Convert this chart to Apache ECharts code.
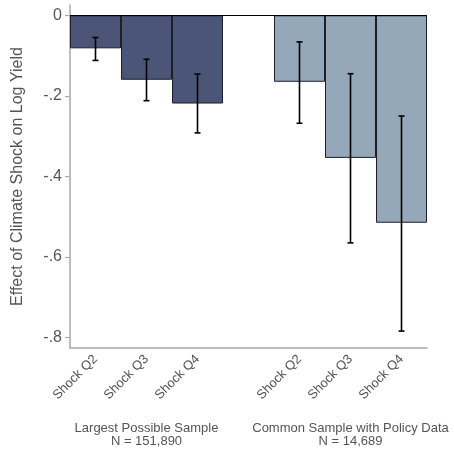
<!DOCTYPE html>
<html>
<head>
<meta charset="utf-8">
<script src="https://cdn.jsdelivr.net/npm/echarts@6/dist/echarts.min.js"></script>
<style>html,body{margin:0;padding:0;background:#fff;}#chart{width:454px;height:449px;}</style>
</head>
<body>
<div id="chart"></div>
<script>
// Categories (empty slot separates the two samples)
const categories = ['Shock Q2', 'Shock Q3', 'Shock Q4', '', 'Shock Q2', 'Shock Q3', 'Shock Q4'];
const groupLabels = ['', 'Largest Possible Sample\nN = 151,890', '', '', '', 'Common Sample with Policy Data\nN = 14,689', ''];
// Point estimates
const estimates = [-0.082, -0.160, -0.219, null, -0.165, -0.354, -0.515];
// Confidence intervals
const ciLow  = [-0.112, -0.212, -0.292, null, -0.268, -0.565, -0.784];
const ciHigh = [-0.055, -0.109, -0.146, null, -0.066, -0.145, -0.250];
// Sample group per category (0 = largest sample, 1 = common sample)
const sampleGroup = [0, 0, 0, null, 1, 1, 1];
const yTicks = [0, -0.2, -0.4, -0.6, -0.8];

const groupColors = ['#4b5577', '#95a8ba'];
const FONT = 'Liberation Sans, Arial, sans-serif';

const barData = estimates.map((v, i) => v === null ? '-' : {
  value: v,
  itemStyle: { color: groupColors[sampleGroup[i]] }
});
const errData = [];
estimates.forEach((v, i) => { if (v !== null) errData.push([i, ciLow[i], ciHigh[i]]); });

const chart = echarts.init(document.getElementById('chart'), null, { renderer: 'canvas' });
chart.setOption({
  animation: false,
  backgroundColor: '#ffffff',
  grid: { left: 70, right: 27, top: 5, bottom: 101, containLabel: false, outerBoundsMode: 'none' },
  xAxis: [{
    type: 'category',
    data: categories,
    boundaryGap: true,
    axisLine: { onZero: false, lineStyle: { color: '#a8a8a8', width: 1.5 } },
    axisTick: { alignWithLabel: true, length: 5, interval: (i, v) => v !== '', lineStyle: { color: '#a8a8a8', width: 1.2 } },
    axisLabel: { interval: 0, rotate: 45, margin: 9, color: '#555', fontFamily: FONT, fontSize: 13 },
    splitLine: { show: false }
  }, {
    type: 'category',
    data: groupLabels,
    position: 'bottom',
    boundaryGap: true,
    axisLine: { show: false },
    axisTick: { show: false },
    axisLabel: { interval: 0, margin: 74, color: '#555', fontFamily: FONT, fontSize: 13, lineHeight: 13, align: 'center' },
    splitLine: { show: false }
  }],
  yAxis: {
    type: 'value',
    min: -0.826,
    max: 0.0256,
    name: 'Effect of Climate Shock on Log Yield',
    nameLocation: 'middle',
    nameGap: 44,
    nameTextStyle: { color: '#555', fontFamily: FONT, fontSize: 16 },
    axisLine: { show: true, lineStyle: { color: '#a8a8a8', width: 1.5 } },
    axisTick: { show: true, length: 5, customValues: yTicks, lineStyle: { color: '#a8a8a8', width: 1.2 } },
    axisLabel: {
      customValues: yTicks, margin: 8, color: '#555', fontFamily: FONT, fontSize: 16,
      formatter: v => v === 0 ? '0' : ('-' + String(Math.abs(v).toFixed(1)).replace(/^0/, ''))
    },
    splitLine: { show: false }
  },
  series: [{
    type: 'bar',
    data: barData,
    barCategoryGap: '0%',
    itemStyle: { borderColor: '#1e1e28', borderWidth: 1 },
    markLine: {
      silent: true,
      symbol: 'none',
      label: { show: false },
      lineStyle: { color: '#000', width: 1.2, type: 'solid' },
      data: [{ yAxis: 0 }]
    },
    z: 2
  }, {
    type: 'custom',
    data: errData,
    z: 5,
    renderItem: (params, api) => {
      const x = api.value(0);
      const lo = api.coord([x, api.value(1)]);
      const hi = api.coord([x, api.value(2)]);
      const cap = 3;
      const style = { stroke: '#000', lineWidth: 1.6 };
      return {
        type: 'group',
        children: [
          { type: 'line', shape: { x1: lo[0], y1: lo[1], x2: hi[0], y2: hi[1] }, style },
          { type: 'line', shape: { x1: lo[0] - cap, y1: lo[1], x2: lo[0] + cap, y2: lo[1] }, style },
          { type: 'line', shape: { x1: hi[0] - cap, y1: hi[1], x2: hi[0] + cap, y2: hi[1] }, style }
        ]
      };
    }
  }]
});
</script>
</body>
</html>
